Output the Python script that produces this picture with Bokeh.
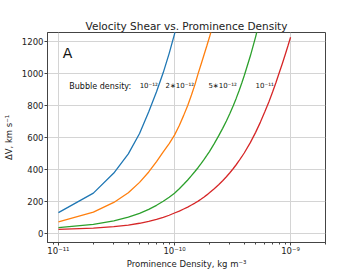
from bokeh.plotting import figure
from bokeh.models import Range1d, FixedTicker, Label
from bokeh.embed import file_html
from bokeh.resources import INLINE

# Prominence density (kg m^-3) sample points and velocity shear dV (km/s), one series per bubble density
x_blue = [1e-11, 2e-11, 3e-11, 4e-11, 5e-11, 6e-11, 7e-11, 8e-11, 9e-11, 1e-10, 1.1e-10]
v_blue = [131, 253, 378, 498, 625, 760, 885, 1005, 1125, 1245, 1365]

x_orange = [1e-11, 2e-11, 3e-11, 4e-11, 5e-11, 6e-11, 7e-11, 8e-11, 9e-11, 1e-10, 1.1e-10,
            1.2e-10, 1.3e-10, 1.4e-10, 1.5e-10, 1.6e-10, 1.7e-10, 1.8e-10, 1.9e-10, 2e-10,
            2.1e-10, 2.2e-10]
v_orange = [73, 134, 195, 255, 320, 385, 450, 510, 562, 615, 675,
            738, 800, 865, 930, 1000, 1060, 1118, 1172, 1225,
            1280, 1335]

x_green = [1e-11, 2e-11, 3e-11, 4e-11, 5e-11, 6e-11, 7e-11, 8e-11, 9e-11, 1e-10,
           1.1e-10, 1.2e-10, 1.3e-10, 1.4e-10, 1.5e-10, 1.6e-10, 1.7e-10, 1.8e-10, 1.9e-10, 2e-10,
           2.2e-10, 2.4e-10, 2.6e-10, 2.8e-10, 3e-10, 3.2e-10, 3.4e-10, 3.6e-10, 3.8e-10, 4e-10,
           4.5e-10, 5e-10, 5.5e-10]
v_green = [38, 58, 80, 103, 127, 152, 177, 202, 227, 252,
           280, 308, 335, 362, 388, 413, 438, 463, 488, 512,
           562, 610, 657, 703, 750, 797, 844, 892, 940, 988,
           1108, 1228, 1348]

x_red = [1e-11, 2e-11, 3e-11, 4e-11, 5e-11, 6e-11, 7e-11, 8e-11, 9e-11, 1e-10,
         1.1e-10, 1.2e-10, 1.3e-10, 1.4e-10, 1.5e-10, 1.6e-10, 1.7e-10, 1.8e-10, 1.9e-10, 2e-10,
         2.2e-10, 2.4e-10, 2.6e-10, 2.8e-10, 3e-10, 3.2e-10, 3.4e-10, 3.6e-10, 3.8e-10, 4e-10,
         4.5e-10, 5e-10, 5.5e-10, 6e-10, 6.5e-10, 7e-10, 7.5e-10, 8e-10, 8.5e-10, 9e-10,
         9.5e-10, 1e-9]
v_red = [27, 35, 44, 54, 65, 77, 89, 102, 115, 129,
         141, 154, 166, 179, 191, 203, 216, 229, 242, 255,
         280, 305, 330, 355, 380, 405, 430, 455, 480, 505,
         568, 632, 696, 760, 822, 884, 945, 1005, 1062, 1118,
         1172, 1225]

series_colors = ["#1f77b4", "#ff7f0e", "#2ca02c", "#d62728"]
bubble_labels = ["10⁻¹²", "2∗10⁻¹²", "5∗10⁻¹²", "10⁻¹¹"]
bubble_label_x = [6.0e-11, 1.11e-10, 2.6e-10, 5.98e-10]

x_ticks = [1e-11, 1e-10, 1e-9]
x_tick_labels = {1e-11: "10⁻¹¹", 1e-10: "10⁻¹⁰", 1e-9: "10⁻⁹"}
y_ticks = [0, 200, 400, 600, 800, 1000, 1200]

FONT = "DejaVu Sans"

p = figure(width=361, height=271, x_axis_type="log",
           x_range=Range1d(8.05e-12, 2.0e-9), y_range=Range1d(-55, 1255),
           output_backend="svg", toolbar_location=None,
           min_border_left=45, min_border_right=36, min_border_top=32, min_border_bottom=29,
           title="Velocity Shear vs. Prominence Density")

p.title.align = "center"
p.title.text_font = FONT
p.title.text_font_style = "normal"
p.title.text_font_size = "10.5px"
p.title.text_color = "#222222"
p.title.offset = 0
p.title.standoff = 2

minor = [k * 10.0 ** e for e in (-12, -11, -10, -9) for k in range(2, 10)]
p.xaxis.ticker = FixedTicker(ticks=x_ticks, minor_ticks=minor)
p.xaxis.major_label_overrides = x_tick_labels
p.yaxis.ticker = FixedTicker(ticks=y_ticks)

p.xaxis.axis_label = "Prominence Density, kg m⁻³"
p.yaxis.axis_label = "ΔV, km s⁻¹"

for ax in (p.xaxis[0], p.yaxis[0]):
    ax.axis_label_text_font = FONT
    ax.axis_label_text_font_style = "normal"
    ax.axis_label_text_font_size = "8.5px"
    ax.axis_label_text_color = "#222222"
    ax.major_label_text_font = FONT
    ax.major_label_text_font_size = "8.5px"
    ax.major_label_text_color = "#222222"
    ax.axis_line_color = "#444444"
    ax.major_tick_line_color = "#444444"
    ax.minor_tick_line_color = "#444444"
    ax.major_tick_in = 0
    ax.major_tick_out = 3
    ax.minor_tick_in = 0
    ax.minor_tick_out = 2
    ax.major_label_standoff = 0
    ax.axis_label_standoff = 0

p.yaxis.major_label_standoff = 1
p.yaxis.axis_label_standoff = 5
p.yaxis.minor_tick_line_color = None
p.outline_line_color = "#444444"
p.grid.grid_line_color = "#d4d4d4"
p.grid.grid_line_width = 1

for xs, vs, c in zip([x_blue, x_orange, x_green, x_red],
                     [v_blue, v_orange, v_green, v_red], series_colors):
    p.line(xs, vs, line_color=c, line_width=1.3)

p.add_layout(Label(x=1.09e-11, y=1130, text="A", text_font=FONT, text_font_size="14px",
                   text_baseline="middle", text_align="left", text_color="#111111"))
p.add_layout(Label(x=1.24e-11, y=918, text="Bubble density:", text_font=FONT,
                   text_font_size="8px", text_baseline="middle", text_align="left",
                   text_color="#111111"))
for lx, lt in zip(bubble_label_x, bubble_labels):
    p.add_layout(Label(x=lx, y=923, text=lt, text_font=FONT, text_font_size="7px",
                       text_baseline="middle", text_align="center", text_color="#111111"))

open("out.html", "w").write(file_html(p, INLINE))
